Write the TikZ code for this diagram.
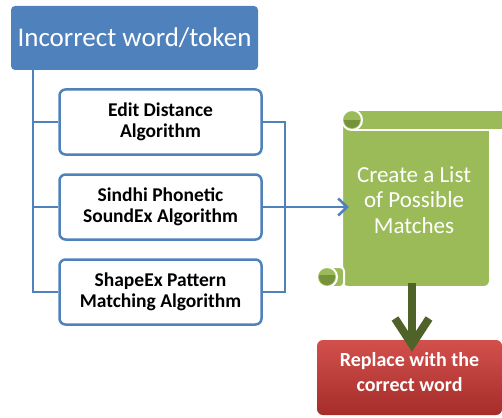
\documentclass[tikz,border=0pt]{standalone}
\usepackage{fontspec}
\setmainfont{Carlito}
\usetikzlibrary{arrows.meta}
\definecolor{ofblue}{HTML}{4F81BD}
\definecolor{scrollgreen}{HTML}{9BBB59}
\definecolor{curlgreen}{HTML}{76923C}
\definecolor{arrowgreen}{HTML}{4F6228}
\definecolor{redtop}{HTML}{D2504C}
\definecolor{redbot}{HTML}{A52D2A}

\begin{document}
\begin{tikzpicture}[x=1pt,y=-1pt]
        \tikzset{algo/.style = {draw=ofblue, line width=2.5pt, rounded corners=6pt, fill=white, minimum width=202pt, minimum height=65pt, align=center, font=\fontsize{19.5}{21}\selectfont\bfseries}}
        \tikzset{link/.style = {draw=ofblue, line width=2.5pt}}
        \tikzset{rim/.style = {draw=white, line width=2pt}}
        \useasboundingbox (0,0) rectangle (502,417);
        % boxes
        \node[fill=ofblue, rounded corners=4pt, minimum width=247pt, minimum height=64pt, text=white, font=\fontsize{27}{30}\selectfont] (word) at (134.5,38) {Incorrect word/token};
        \node[algo] (edit) at (160.5,122) {Edit Distance\\Algorithm};
        \node[algo] (sound) at (160.5,207) {Sindhi Phonetic\\SoundEx Algorithm};
        \node[algo] (shape) at (160.5,292) {ShapeEx Pattern\\Matching Algorithm};

        % scroll
        \filldraw[fill=scrollgreen, rim, rounded corners=6pt] (342,120) rectangle (490,287);
        \filldraw[fill=scrollgreen, rim] (352,110) rectangle (515,130);
        \filldraw[fill=scrollgreen, rim] (352,120) circle (10);
        \begin{scope}
          \clip (340,120) rectangle (365,132);
          \fill[curlgreen] (352,120) circle (8);
        \end{scope}
        \filldraw[fill=scrollgreen, rim, rounded corners=4pt] (327,267) -- (344,267) -- (344,287) -- (327,287);
        \filldraw[fill=scrollgreen, rim] (327,277) circle (10);
        \begin{scope}
          \clip (315,275) rectangle (340,290);
          \fill[curlgreen] (327,277) circle (8);
        \end{scope}
        \node[text=white, align=center, font=\fontsize{23}{25.5}\selectfont] (list) at (414,200) {Create a List\\of Possible\\Matches};

        \node[shade, top color=redtop, bottom color=redbot, rounded corners=6pt, minimum width=185pt, minimum height=75pt,
              label={[text=white, align=center, font=\fontsize{20}{25}\selectfont\bfseries, yshift=5pt]center:{Replace with the\\correct word}}] (repl) at (409.5,377.5) {};

        % connectors
        \coordinate (spine) at (33,70);
        \coordinate (join) at (285,207);
        \coordinate (listin) at (349,207);
        \coordinate (listout) at (412,283);
        \draw[link] (spine) |- (shape.west);
        \draw[link] (spine |- edit.west) -- (edit.west);
        \draw[link] (spine |- sound.west) -- (sound.west);
        \draw[link] (edit.east) -| (join) |- (shape.east);
        \draw[link, -{Straight Barb[length=9pt,width=17pt]}] (sound.east) -- (listin);
        \draw[arrowgreen, line width=8pt, -{Straight Barb[length=26pt,width=34pt]}] (listout) -- ([yshift=-12pt]repl.north -| listout);
\end{tikzpicture}
\end{document}
